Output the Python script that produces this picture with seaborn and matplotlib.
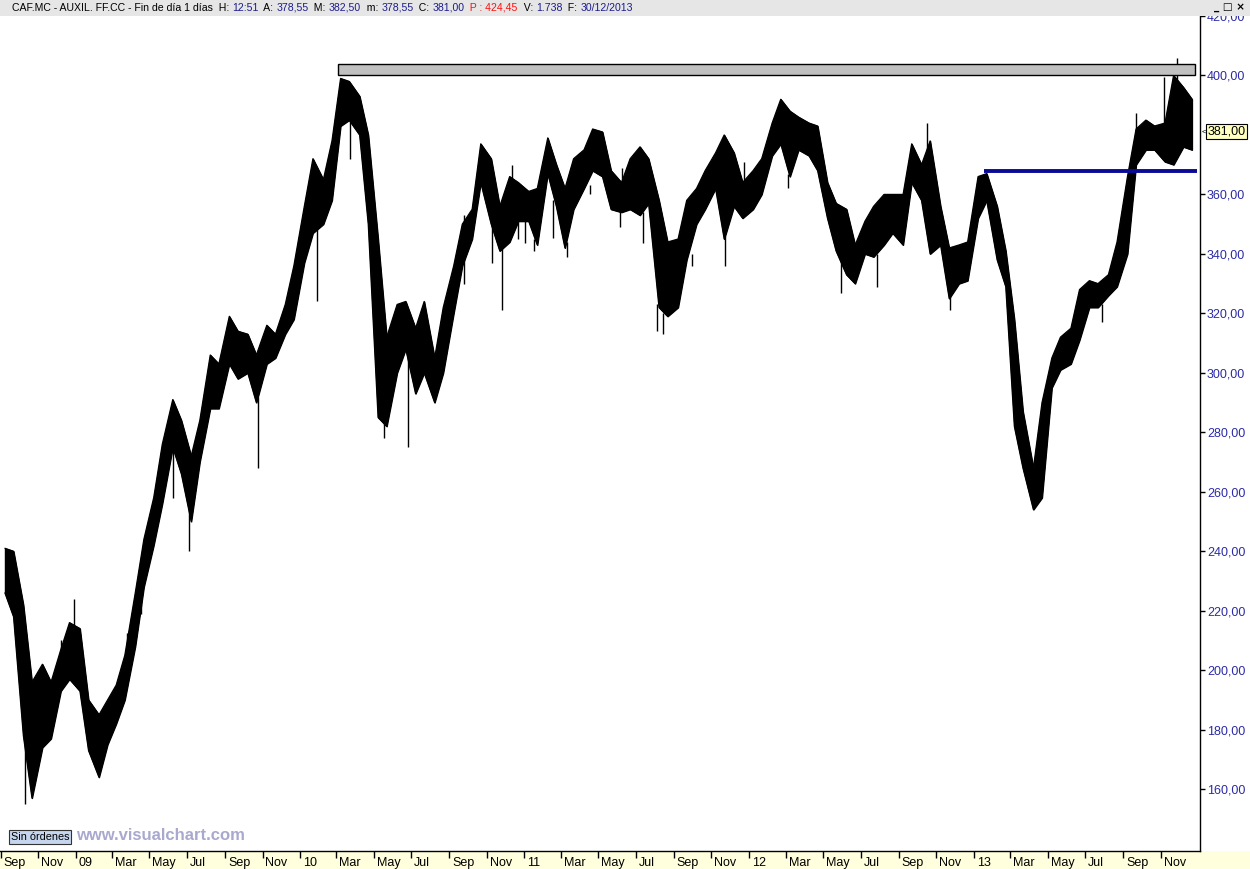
import numpy as np
import pandas as pd
import matplotlib
matplotlib.use("Agg")
import matplotlib.pyplot as plt
import matplotlib.dates as mdates
from matplotlib.patches import Rectangle
from matplotlib.transforms import ScaledTranslation
import seaborn as sns

# ---------------- data (semi-monthly high / low ranges, CAF.MC daily chart) ----------------
period_start = "2008-09-01"
high = [241, 240, 222, 196, 202, 196, 207, 216, 214, 190,
        185, 190, 195, 205, 226, 244, 258, 276, 291, 284,
        272, 284, 306, 303, 319, 314, 313, 306, 316, 313,
        323, 336, 356, 372, 365, 378, 399, 398, 393, 380,
        345, 312, 323, 324, 315, 324, 305, 322, 336, 350,
        355, 377, 372, 356, 366, 364, 361, 362, 379, 370,
        362, 372, 375, 382, 381, 368, 364, 372, 376, 372,
        358, 344, 345, 358, 362, 368, 374, 380, 374, 364,
        368, 372, 384, 392, 388, 386, 384, 383, 364, 357,
        355, 343, 351, 356, 360, 360, 360, 377, 370, 378,
        356, 342, 343, 344, 366, 367, 356, 341, 318, 287,
        268, 290, 305, 312, 315, 328, 331, 330, 333, 344,
        366, 382, 385, 383, 384, 400, 396, 392]
low = [226, 218, 178, 157, 174, 177, 193, 197, 193, 173,
       164, 175, 182, 190, 208, 228, 242, 256, 275, 266,
       250, 270, 288, 288, 303, 298, 300, 290, 303, 305,
       313, 318, 337, 347, 350, 358, 383, 385, 380, 350,
       285, 282, 300, 308, 293, 300, 290, 300, 320, 336,
       345, 364, 350, 341, 344, 351, 351, 343, 367, 356,
       342, 355, 362, 368, 366, 355, 354, 355, 353, 357,
       322, 319, 322, 338, 350, 355, 362, 345, 356, 352,
       355, 360, 373, 377, 366, 375, 373, 368, 352, 341,
       333, 330, 340, 339, 343, 347, 343, 364, 358, 340,
       343, 325, 330, 331, 352, 358, 338, 329, 282, 268,
       254, 258, 295, 301, 303, 311, 322, 322, 326, 329,
       340, 370, 375, 375, 371, 370, 376, 375]

# isolated daily spikes (wicks) outside the usual range
spike_dates = ["2008-10-10", "2008-12-09", "2008-12-29", "2009-03-26", "2009-04-18",
               "2009-06-09", "2009-07-05", "2009-10-25", "2010-01-29", "2010-03-24",
               "2010-05-18", "2010-06-25", "2010-09-24", "2010-11-10", "2010-11-26",
               "2010-12-12", "2010-12-22", "2011-01-02", "2011-01-17", "2011-02-17",
               "2011-03-12", "2011-04-17", "2011-06-06", "2011-06-09", "2011-07-13",
               "2011-08-04", "2011-08-15", "2011-09-30", "2011-11-24", "2011-12-25",
               "2012-03-05", "2012-04-30", "2012-05-30", "2012-07-28", "2012-10-17",
               "2012-11-24", "2013-07-29", "2013-09-22", "2013-11-07", "2013-11-28"]
spike_lo = [155, 200, 210, 205, 219, 258, 240, 268, 324, 372,
            278, 275, 330, 337, 321, 355, 345, 343.5, 341, 345.5,
            339, 360, 349, 364, 343.5, 314, 313, 336, 336, 364,
            362, 366, 327, 329, 370, 321, 317, 380, 384, 398]
spike_hi = [180, 210, 224, 212.5, 230, 276, 255, 292, 350, 386,
            290, 310, 353, 352, 342, 370, 352, 352, 345, 358,
            344, 363, 355, 369, 354, 323, 320, 340, 346, 371,
            367, 369, 342, 340, 384, 326, 323, 387.5, 399.6, 406]

support_level = 368
support_start, support_end = "2013-01-18", "2013-12-30"
resist_lo, resist_hi = 400, 403.8
resist_start, resist_end = "2010-03-03", "2013-12-27"
last_close = 381.00
last_close_label = "381,00"

x_tick_start = "2008-09-01"
x_tick_labels = ["Sep", "Nov", "09", "Mar", "May", "Jul", "Sep", "Nov", "10", "Mar",
                 "May", "Jul", "Sep", "Nov", "11", "Mar", "May", "Jul", "Sep", "Nov",
                 "12", "Mar", "May", "Jul", "Sep", "Nov", "13", "Mar", "May", "Jul",
                 "Sep", "Nov"]
y_ticks = [160, 180, 200, 220, 240, 260, 280, 300, 320, 340, 360, 400, 420]
y_tick_labels = ["160,00", "180,00", "200,00", "220,00", "240,00", "260,00", "280,00",
                 "300,00", "320,00", "340,00", "360,00", "400,00", "420,00"]

header_pieces = [("CAF.MC - AUXIL. FF.CC - Fin de día 1 días", "black"),
                 ("  H: ", "black"), ("12:51", "#1C1C8C"),
                 ("  A: ", "black"), ("378,55", "#1C1C8C"),
                 ("  M: ", "black"), ("382,50", "#1C1C8C"),
                 ("  m: ", "black"), ("378,55", "#1C1C8C"),
                 ("  C: ", "black"), ("381,00", "#1C1C8C"),
                 ("  P : 424,45", "#FF1010"),
                 ("  V: ", "black"), ("1.738", "#1C1C8C"),
                 ("  F: ", "black"), ("30/12/2013", "#1C1C8C")]

# ---------------- figure ----------------
sns.set_theme(style="white")
plt.rcParams["font.family"] = ["Liberation Sans", "DejaVu Sans"]

W, H = 1250, 869
fig = plt.figure(figsize=(W / 100, H / 100), dpi=100)
fig.patch.set_facecolor("white")
ax = fig.add_axes([0, 18 / H, 1200 / W, 835 / H])
ax.set_facecolor("white")

dates = pd.date_range(period_start, periods=len(high), freq="SMS") + pd.Timedelta(days=7)
df = pd.DataFrame({"date": dates, "high": high, "low": low})

ax.fill_between(df["date"], df["low"], df["high"], color="black", linewidth=0.9,
                edgecolor="black", zorder=2)
sns.lineplot(data=df, x="date", y="high", color="black", lw=0.9, ax=ax, zorder=2)
sns.lineplot(data=df, x="date", y="low", color="black", lw=0.9, ax=ax, zorder=2)
ax.vlines(pd.to_datetime(spike_dates), spike_lo, spike_hi, color="black", lw=1.0, zorder=2)

# resistance zone
r0 = mdates.date2num(pd.Timestamp(resist_start))
r1 = mdates.date2num(pd.Timestamp(resist_end))
ax.add_patch(Rectangle((r0, resist_lo), r1 - r0, resist_hi - resist_lo,
                       facecolor="#C0C0C0", edgecolor="black", lw=1.0, zorder=3))
# support line
ax.hlines(support_level, pd.Timestamp(support_start), pd.Timestamp(support_end),
          color="#0A0A96", lw=2.8, zorder=3)

ax.set_xlim(pd.Timestamp("2008-08-31"), pd.Timestamp("2014-01-04"))
ax.set_ylim(139.2, 419.8)
ax.set_xlabel("")
ax.set_ylabel("")
ax.grid(False)

for s in ["left", "top"]:
    ax.spines[s].set_visible(False)
for s in ["right", "bottom"]:
    ax.spines[s].set_visible(True)
    ax.spines[s].set_color("black")
    ax.spines[s].set_linewidth(1.0)

# x axis
xt = pd.date_range(x_tick_start, periods=len(x_tick_labels), freq="2MS")
ax.set_xticks(xt)
ax.set_xticklabels(x_tick_labels, ha="left", fontsize=9, color="black")
ax.tick_params(axis="x", bottom=True, direction="out", length=5, width=1.0,
               color="black", pad=-1)
for lbl in ax.get_xticklabels():
    lbl.set_transform(lbl.get_transform() + ScaledTranslation(3 / 100, 0, fig.dpi_scale_trans))

# y axis (right)
ax.yaxis.tick_right()
ax.set_yticks(y_ticks)
ax.set_yticklabels(y_tick_labels, fontsize=9, color="#2B2BA6")
ax.tick_params(axis="y", right=True, left=False, direction="out", length=3.5, width=1.0,
               color="black", pad=1.5)

# last price tag
ax.text(1.0065, last_close, last_close_label, transform=ax.get_yaxis_transform(),
        ha="left", va="center", fontsize=9, color="black", clip_on=False, zorder=6,
        bbox=dict(boxstyle="square,pad=0.12", facecolor="#FFFFC0", edgecolor="black", lw=0.8))
ax.text(1.0015, last_close, "<", transform=ax.get_yaxis_transform(), ha="left",
        va="center", fontsize=6, color="black", clip_on=False)

# bottom strip
fig.add_artist(Rectangle((0, 0), 1, 18 / H, transform=fig.transFigure,
                         facecolor="#FFFFDD", edgecolor="none", zorder=-1))

# header bar
fig.add_artist(Rectangle((0, 1 - 16 / H), 1, 16 / H, transform=fig.transFigure,
                         facecolor="#E6E6E6", edgecolor="none", zorder=5))
renderer = fig.canvas.get_renderer()
xpos = 12
for text, col in header_pieces:
    t = fig.text(xpos / W, 1 - 8 / H, text, color=col, fontsize=7.6, ha="left", va="center",
                 zorder=6)
    bb = t.get_window_extent(renderer)
    xpos = bb.x1
fig.text(1229 / W, 1 - 6.5 / H, "_ □ ×", fontsize=7.5, fontweight="bold", ha="center",
         va="center", color="black", zorder=6, family=["DejaVu Sans"])

# footer items
fig.text(11 / W, 1 - 837 / H, "Sin órdenes", fontsize=7.8, ha="left", va="center",
         color="black", zorder=6,
         bbox=dict(boxstyle="square,pad=0.18", facecolor="#C5D5EE", edgecolor="#333333", lw=0.8))
fig.text(76 / W, 1 - 835 / H, "www.visualchart.com", fontsize=12, fontweight="bold",
         ha="left", va="center", color="#A9A9CF", zorder=6)

fig.savefig("out.png", dpi=100)
